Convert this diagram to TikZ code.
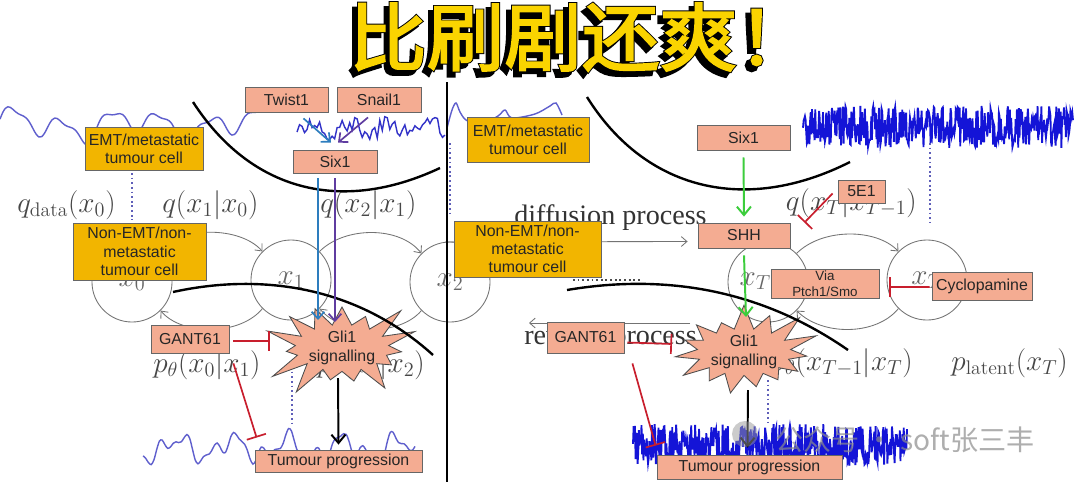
\documentclass[tikz,border=0pt]{standalone}
\usepackage{fontspec}
\newfontfamily\arialf{Liberation Sans}
\newfontfamily\timesf{Liberation Serif}
\newfontfamily\cjk{Noto Sans CJK SC}
\newfontfamily\cjkfill{Noto Sans CJK SC}[FakeBold=2.5]
\newfontfamily\cjkout{Noto Sans CJK SC}[FakeBold=5]
\usetikzlibrary{shapes.symbols,arrows.meta,calc}
\definecolor{goldc}{RGB}{242,181,0}
\definecolor{salm}{RGB}{244,172,146}
\definecolor{ttlyel}{RGB}{250,212,0}
\definecolor{wlc}{RGB}{95,95,205}
\definecolor{wdc}{RGB}{50,50,200}
\definecolor{wnc}{RGB}{20,20,215}
\definecolor{dotc}{RGB}{95,95,185}
\definecolor{redc}{RGB}{200,30,45}
\definecolor{tealc}{RGB}{45,125,190}
\definecolor{purpc}{RGB}{95,60,160}
\definecolor{greenc}{RGB}{60,205,60}
\begin{document}
\begin{tikzpicture}[x=0.025cm,y=-0.025cm,
  bt/.style={font=\arialf\fontsize{11.3}{13}\selectfont, align=center, inner sep=0pt, line width=0.6pt},
  gbox/.style={bt, draw=black!60, fill=goldc, text=black!85},
  sbox/.style={bt, draw=black!60, fill=salm, text=black!85},
  sz/.style 2 args={minimum width=#1*0.025cm, minimum height=#2*0.025cm},
  mlab/.style={text=black!72, font=\fontsize{20}{24}\selectfont, inner sep=0pt},
  plab/.style={text=black!80, font=\timesf\fontsize{20}{24}\selectfont, inner sep=0pt},
  circ/.style={circle, draw=black!55, line width=0.6pt, minimum size=2cm, inner sep=0pt, font=\fontsize{20}{24}\selectfont, text=black!60},
  carr/.style={draw=black!55, line width=0.6pt, -{Straight Barb[length=4pt,width=7pt]}},
  bigcurve/.style={line width=1.7pt, draw=black},
  dotl/.style={dotted, line width=1.3pt, draw=dotc},
  inh/.style={draw=redc, line width=1.2pt, -{Bar[width=0.5cm]}},
  tealarr/.style={draw=tealc, line width=1.2pt, -{Straight Barb[length=5pt,width=9pt]}},
  purparr/.style={draw=purpc, line width=1.2pt, -{Straight Barb[length=5pt,width=9pt]}},
  greenarr/.style={draw=greenc, line width=1.4pt, -{Straight Barb[length=6pt,width=10pt]}},
  blkarr/.style={draw=black, line width=1.4pt, -{Straight Barb[length=6pt,width=10pt]}},
  gli/.style={starburst, draw=black!70, fill=salm, line width=0.6pt, starburst points=15, starburst point height=0.85cm, random starburst=12, minimum width=3.35cm, minimum height=1.95cm, inner sep=0pt, align=center, font=\arialf\fontsize{11.3}{13}\selectfont, text=black!85},
  wlight/.style={draw=wlc, line width=1pt},
  wdark/.style={draw=wdc, line width=1pt},
  wnoise/.style={draw=wnc, line width=1.3pt},
  ttlstyle/.style={inner sep=0pt, transform shape, xscale=1.15, yscale=1.1}
]
\useasboundingbox (0,0) rectangle (1080,482);
\fill[white] (0,0) rectangle (1080,482);

% ---------- title ----------
\node[ttlstyle, text=black] (ttlshadow) at (577,42) {\cjkout\fontsize{48}{50}\selectfont 比刷剧还爽！};
\node[ttlstyle, text=black] (ttlout) at (582,37) {\cjkout\fontsize{48}{50}\selectfont 比刷剧还爽！};
\node[ttlstyle, text=ttlyel] (ttl) at (582,37) {\cjkfill\fontsize{48}{50}\selectfont 比刷剧还爽！};

% ---------- waves ----------
\draw[wlight] plot[smooth, domain=0:258, samples=100] (\x,{125-11*sin(7.3*\x)-7*sin(3.1*\x+40)-4*sin(15*\x+20)});
\pgfmathsetseed{7}
\draw[wdark] plot[domain=297:445, samples=60] (\x,{128+5*sin(9*\x)+8*rand});
\draw[wlight] plot[smooth] coordinates {(447,128) (452,110) (456,103) (460,112) (466,120) (480,125) (498,116) (505,110) (512,118) (535,114) (550,106) (556,103) (562,115)};
\pgfmathsetseed{11}
\draw[wnoise] plot[domain=803:1073, samples=420] (\x,{127+21*rand});
\draw[wlight] plot[smooth, domain=143:415, samples=100] (\x,{448-9*sin(6.5*\x+20)-7*sin(14*\x)-4*sin(25*\x+50)});
\pgfmathsetseed{5}
\draw[wnoise] plot[domain=633:907, samples=420] (\x,{445+21*rand});

% ---------- dotted guides ----------
\draw[dotl] (132,173) -- (132,220);
\draw[dotl] (450,143) -- (450,215);
\draw[dotl] (930,143) -- (930,223);
\draw[dotl] (292,367) -- (292,423);
\draw[dotl] (768,380) -- (768,423);
\draw[dotted, line width=1.3pt, black!70] (573,280) -- (640,280);

% ---------- math labels ----------
\node[mlab, anchor=base west] (lqd) at (17,212) {$q_{\mathrm{data}}(x_0)$};
\node[mlab, anchor=base west] (lq10) at (162,212) {$q(x_1|x_0)$};
\node[mlab, anchor=base west] (lq21) at (320,212) {$q(x_2|x_1)$};
\node[mlab, anchor=base west] (lp01) at (153,372) {$p_\theta(x_0|x_1)$};
\node[mlab, anchor=base east] (lp12) at (425,372) {$p_\theta(x_1|x_2)$};
\node[mlab, anchor=base east] (lqT) at (917,210) {$q(x_T|x_{T-1})$};
\node[mlab, anchor=base east] (lpT) at (913,370) {$p_\theta(x_{T-1}|x_T)$};
\node[mlab, anchor=base east] (lplat) at (1068,370) {$p_{\mathrm{latent}}(x_T)$};
\node[plab, anchor=base west] (ldiff) at (514,224) {diffusion process};
\node[plab, anchor=base west] (lrev) at (524,344) {reverse process};

% ---------- circles ----------
\node[circ] (c0) at (132,282) {$x_0$};
\node[circ] (c1) at (291,280) {$x_1$};
\node[circ] (c2) at (450,282) {$x_2$};
\node[circ] (cT1) at (768,282) {$x_{T-1}$};
\node[circ] (cT) at (927,280) {$x_T$};
\draw[carr] (c0.50) .. controls (180,226) and (240,226) .. (c1.135);
\draw[carr] (c1.45) .. controls (345,226) and (400,226) .. (c2.135);
\draw[carr] (c1.225) .. controls (240,336) and (182,336) .. (c0.315);
\draw[carr] (c2.225) .. controls (400,336) and (343,336) .. (c1.315);
\draw[carr] (cT1.45) .. controls (822,228) and (876,228) .. (cT.135);
\draw[carr] (cT.225) .. controls (876,336) and (822,336) .. (cT1.315);
\coordinate (dstart) at (445,242);
\coordinate (rstart) at (690,323);
\coordinate (rend) at (529,323);

% ---------- big curves (upper) ----------
\draw[bigcurve] (193,102) .. controls (250,190) and (340,215) .. (440,168);
\draw[bigcurve] (587,97) .. controls (645,190) and (745,215) .. (850,162);

% ---------- boxes ----------
\node[sbox, sz={83}{25}] (twist) at (286.5,99.5) {Twist1};
\node[sbox, sz={84}{25}] (snail) at (379,99.5) {Snail1};
\node[sbox, sz={84}{23}] (six1L) at (335,161.5) {Six1};
\node[gbox, sz={118}{43}] (emtL) at (144,148.5) {EMT/metastatic\\tumour cell};
\node[gbox, sz={133}{57}] (nonL) at (139.5,251.5) {Non-EMT/non-\\metastatic\\tumour cell};
\node[sbox, sz={78}{28}] (gantL) at (190,339) {GANT61};
\node[sbox, sz={167}{22}] (tumL) at (338.5,461) {Tumour progression};

\node[sbox, sz={92}{25}] (shh) at (744,235.5) {SHH};
\draw[carr] (dstart) -- ($(shh.west)+(-10,6)$);
\draw[carr] (rstart) -- (rend);

\node[gbox, sz={122}{45}] (emtR) at (528,139.5) {EMT/metastatic\\tumour cell};
\node[sbox, sz={93}{25}] (six1R) at (743.5,137.5) {Six1};
\node[sbox, sz={47}{23}] (e51) at (861.5,191.5) {5E1};
\node[gbox, sz={147}{56}] (nonR) at (527.5,249) {Non-EMT/non-\\metastatic\\tumour cell};
\node[sbox, sz={108}{29}, font=\arialf\fontsize{9.5}{11}\selectfont] (via) at (825,283.5) {Via\\Ptch1/Smo};
\node[sbox, sz={100}{28}] (cyclo) at (982,286) {Cyclopamine};
\node[sbox, sz={77}{31}] (gantR) at (585.5,337.5) {GANT61};
\node[sbox, sz={185}{24}] (tumR) at (749.5,467) {Tumour progression};

% ---------- Gli1 stars ----------
\node[gli] (gliL) at (342,348) {Gli1\\signalling};
\node[gli, minimum height=2.25cm, random starburst=31] (gliR) at (744,352) {Gli1\\signalling};

% ---------- big curves (lower, over stars) ----------
\draw[bigcurve] (173,292) .. controls (250,275) and (350,280) .. (433,355);
\draw[bigcurve] (567,290) .. controls (650,276) and (750,282) .. (848,350);

% ---------- connectors ----------
\draw[tealarr] ($(twist.south)+(17,6)$) -- ($(six1L.north)+(-4,-7)$);
\draw[purparr] ($(snail.south)+(-11,5)$) -- ($(six1L.north)+(3,-7)$);
\draw[tealarr] ($(six1L.south)+(-17,5)$) -- ($(gliL.center)+(-24,-28)$);
\draw[purparr] ($(six1L.south)+(0,5)$) -- ($(gliL.center)+(-7,-26)$);
\draw[blkarr] ($(gliL.center)+(-4,30)$) -- ($(tumL.north)+(0,-5)$);
\draw[inh] ($(gantL.east)+(4,2)$) -- ($(gliL.center)+(-72,-7)$);
\draw[inh] ($(gantL.south east)+(4,10)$) -- ($(tumL.north west)+(2,-12)$);

\draw[greenarr] ($(six1R.south)+(0,7)$) -- ($(shh.north)+(0,-6)$);
\draw[greenarr] ($(shh.south)+(0,7)$) -- ($(gliR.center)+(2,-35)$);
\draw[blkarr] ($(gliR.center)+(4,38)$) -- ($(tumR.north)+(-2,-7)$);
\draw[inh] ($(gantR.east)+(3,5)$) -- ($(gliR.center)+(-72,-8)$);
\draw[inh] ($(gantR.south east)+(8,10)$) -- ($(tumR.north west)+(-1,-9)$);
\draw[inh] ($(e51.west)+(-5,2)$) -- ($(shh.north east)+(14,0)$);
\draw[inh] ($(cyclo.west)+(-2,1)$) -- ($(via.east)+(10,3.5)$);

% ---------- divider ----------
\draw[line width=1pt] (447,82) -- (447,482);

% ---------- watermark ----------
\fill[black!40, opacity=0.5] (745,434) circle (13);
\node[anchor=west, text=black!45, opacity=0.7, inner sep=0pt, font=\cjk\fontsize{20}{24}\selectfont] (wm) at (775,440) {公众号 · soft张三丰};
\end{tikzpicture}
\end{document}
